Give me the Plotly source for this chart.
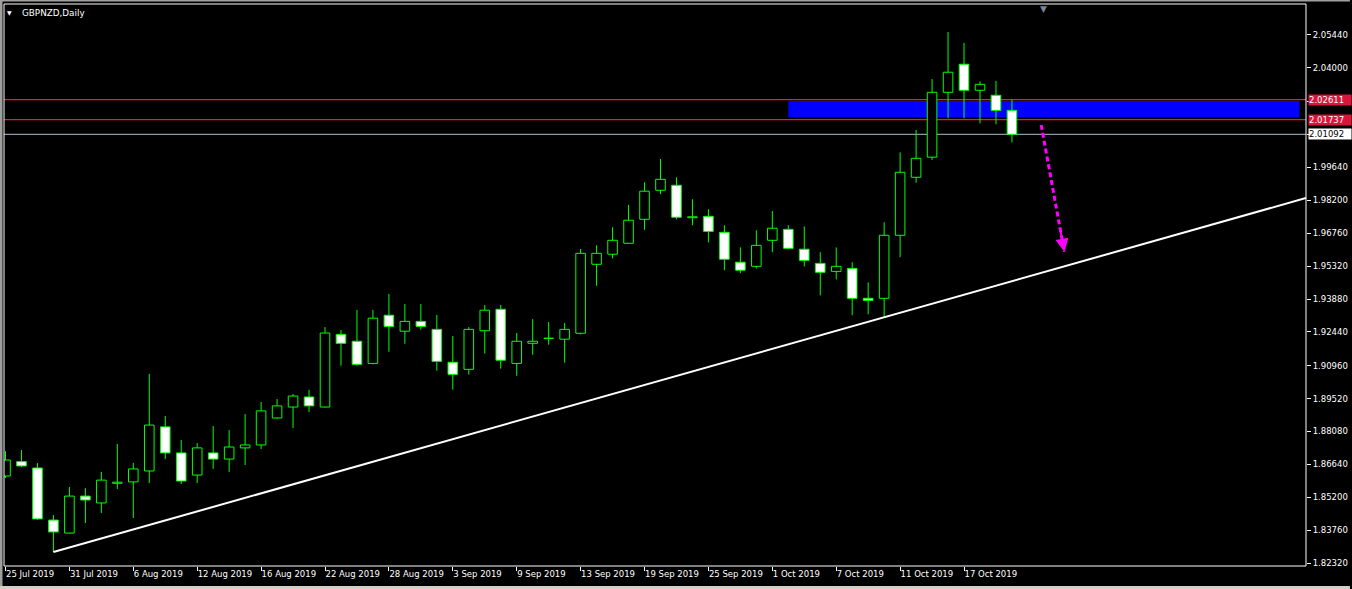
import plotly.graph_objects as go
import pandas as pd

# ---------------- data ----------------
symbol_title = "GBPNZD,Daily"
first_date = "2019-07-25"

opens = [1.8613, 1.8676, 1.8648, 1.8420, 1.8363, 1.8525, 1.8495, 1.8581, 1.8587, 1.8635,
         1.8828, 1.8714, 1.8617, 1.8714, 1.8687, 1.8736, 1.8749, 1.8867, 1.8915, 1.8959,
         1.8915, 1.9233, 1.9203, 1.9106, 1.9317, 1.9247, 1.9290, 1.9255, 1.9111, 1.9080,
         1.9249, 1.9343, 1.9106, 1.9194, 1.92162, 1.9212, 1.9238, 1.9540, 1.9584, 1.9632,
         1.9737, 1.9864, 1.9886, 1.9744, 1.9750, 1.9680, 1.9549, 1.9531, 1.9645, 1.9693,
         1.9606, 1.9544, 1.9509, 1.9522, 1.9391, 1.9391, 1.9667, 1.9921, 2.0009, 2.0293,
         2.0416, 2.0302, 2.0280, 2.0214]
highs = [1.8722, 1.8727, 1.8670, 1.8442, 1.8565, 1.8560, 1.8631, 1.8753, 1.8670, 1.9060,
         1.8876, 1.8771, 1.8757, 1.8832, 1.8814, 1.8884, 1.8937, 1.8950, 1.8972, 1.8990,
         1.9265, 1.9252, 1.9340, 1.9340, 1.9410, 1.9366, 1.9366, 1.9318, 1.9226, 1.9265,
         1.9362, 1.9362, 1.9239, 1.9300, 1.9287, 1.9283, 1.9607, 1.9623, 1.9702, 1.9800,
         1.9899, 2.0001, 1.9921, 1.9825, 1.9781, 1.9711, 1.9614, 1.9689, 1.9773, 1.9711,
         1.9706, 1.9593, 1.9614, 1.9549, 1.9461, 1.9724, 2.0030, 2.0128, 2.0351, 2.0557,
         2.0509, 2.0341, 2.0343, 2.0261]
lows = [1.8604, 1.8652, 1.8422, 1.8280, 1.8362, 1.8407, 1.8451, 1.8556, 1.8429, 1.8582,
        1.8687, 1.8578, 1.8582, 1.8644, 1.8631, 1.8661, 1.8731, 1.8863, 1.8823, 1.8893,
        1.8913, 1.9096, 1.9096, 1.9102, 1.9157, 1.9192, 1.9254, 1.9074, 1.8991, 1.9057,
        1.9149, 1.9083, 1.9052, 1.9144, 1.9188, 1.9109, 1.9233, 1.9446, 1.9566, 1.9631,
        1.9691, 1.9847, 1.9737, 1.9711, 1.9636, 1.9514, 1.9501, 1.9522, 1.9593, 1.9606,
        1.9531, 1.9404, 1.9474, 1.9317, 1.9321, 1.9308, 1.9571, 1.9897, 1.9997, 2.0179,
        2.0179, 2.0157, 2.0153, 2.0074]
closes = [1.8683, 1.8657, 1.8425, 1.8368, 1.8525, 1.8508, 1.8595, 1.8586, 1.8644, 1.8836,
          1.8714, 1.8591, 1.8736, 1.8687, 1.8740, 1.8749, 1.8898, 1.8920, 1.8963, 1.8920,
          1.9239, 1.9194, 1.9102, 1.9304, 1.9268, 1.9290, 1.9268, 1.9115, 1.9058, 1.9255,
          1.9339, 1.9120, 1.9203, 1.9203, 1.92158, 1.9255, 1.9588, 1.9588, 1.9645, 1.9733,
          1.9860, 1.9912, 1.9746, 1.9748, 1.9684, 1.9562, 1.9514, 1.9623, 1.9698, 1.9610,
          1.9557, 1.9505, 1.9531, 1.9391, 1.9382, 1.9667, 1.9943, 2.0004, 2.0293, 2.0381,
          2.0302, 2.0328, 2.0214, 2.0109]

y_tick_vals = [1.82320, 1.83760, 1.85200, 1.86640, 1.88080, 1.89520, 1.90960, 1.92440,
               1.93880, 1.95320, 1.96760, 1.98200, 1.99640, 2.01080, 2.02540, 2.04000, 2.05440]
y_tick_text = ["1.82320", "1.83760", "1.85200", "1.86640", "1.88080", "1.89520", "1.90960",
               "1.92440", "1.93880", "1.95320", "1.96760", "1.98200", "1.99640", "2.01080",
               "2.02540", "2.04000", "2.05440"]

level_high = 2.02611
level_low = 2.01737
bid_price = 2.01092
zone_top = 2.0255
zone_bottom = 2.0184
zone_start_bar = 49
zone_end_bar = 81

trend_anchor_bars = [3, 55]
trend_anchor_prices = [1.8280, 1.9308]

arrow_start = (64.83, 2.0150)
arrow_end = (66.28, 1.9595)

label_every = 4

# ---------------- derived ----------------
n = len(opens)
dates = pd.bdate_range(first_date, periods=n)
idx = list(range(n))
x_tick_vals = idx[::label_every]
x_tick_text = [f"{d.day} {d.strftime('%b %Y')}" for d in dates[::label_every]]

X0 = -1.5 / 16
X1 = X0 + 1304 / 16
Y_TOP = 2.06797
Y_BOT = 1.82189

GREEN = "#00ff00"
FONT = "DejaVu Sans"

bull = [i for i in idx if closes[i] >= opens[i]]
bear = [i for i in idx if closes[i] < opens[i]]

fig = go.Figure()

# wicks
wx, wy = [], []
for i in idx:
    top = max(opens[i], closes[i])
    bot = min(opens[i], closes[i])
    wx += [i, i, None, i, i, None]
    wy += [highs[i], top, None, bot, lows[i], None]

fig.add_trace(go.Bar(
    x=bull, base=[opens[i] for i in bull], y=[closes[i] - opens[i] for i in bull],
    width=0.6, marker=dict(color="#000000", line=dict(color=GREEN, width=1)),
    hoverinfo="skip", showlegend=False))
fig.add_trace(go.Bar(
    x=bear, base=[closes[i] for i in bear], y=[opens[i] - closes[i] for i in bear],
    width=0.6, marker=dict(color="#ffffff", line=dict(color=GREEN, width=1)),
    hoverinfo="skip", showlegend=False))
fig.add_trace(go.Scatter(x=wx, y=wy, mode="lines", line=dict(color=GREEN, width=1),
                         hoverinfo="skip", showlegend=False))

# trend line (ray from first anchor through second to right edge)
slope = (trend_anchor_prices[1] - trend_anchor_prices[0]) / (trend_anchor_bars[1] - trend_anchor_bars[0])
t_end_price = trend_anchor_prices[0] + slope * (X1 - trend_anchor_bars[0])
fig.add_trace(go.Scatter(x=[trend_anchor_bars[0], X1], y=[trend_anchor_prices[0], t_end_price],
                         mode="lines", line=dict(color="#ffffff", width=2),
                         hoverinfo="skip", showlegend=False))

# dashed magenta arrow
fig.add_trace(go.Scatter(x=[arrow_start[0], arrow_end[0]], y=[arrow_start[1], arrow_end[1]],
                         mode="lines", line=dict(color="#ff00ff", width=3, dash="5px,3px"),
                         hoverinfo="skip", showlegend=False))
tail_x = arrow_end[0] - 0.2 * (arrow_end[0] - arrow_start[0])
tail_y = arrow_end[1] - 0.2 * (arrow_end[1] - arrow_start[1])

shapes = [
    dict(type="rect", xref="x", yref="y", x0=zone_start_bar, x1=zone_end_bar,
         y0=zone_bottom, y1=zone_top, fillcolor="#0000ff", line=dict(width=0), layer="below"),
    dict(type="line", xref="paper", yref="y", x0=0, x1=1, y0=level_high, y1=level_high,
         line=dict(color="#ff1040", width=1.3), layer="below"),
    dict(type="line", xref="paper", yref="y", x0=0, x1=1, y0=level_low, y1=level_low,
         line=dict(color="#ff1040", width=1.3), layer="below"),
    dict(type="line", xref="paper", yref="y", x0=0, x1=1, y0=bid_price, y1=bid_price,
         line=dict(color="#8898a8", width=1.3), layer="below"),
    dict(type="rect", xref="paper", yref="paper", x0=0, x1=1, y0=0, y1=1,
         line=dict(color="#ffffff", width=1), fillcolor="rgba(0,0,0,0)", layer="above"),
    # window chrome
    dict(type="rect", xref="paper", yref="paper", x0=-4 / 1304, x1=-1.5 / 1304, y0=-23 / 562, y1=1 + 4 / 562,
         line=dict(width=0), fillcolor="#a0a0a0", layer="above"),
    dict(type="rect", xref="paper", yref="paper", x0=-4 / 1304, x1=1 + 44 / 1304, y0=1 + 2.5 / 562, y1=1 + 4 / 562,
         line=dict(width=0), fillcolor="#a0a0a0", layer="above"),
    dict(type="rect", xref="paper", yref="paper", x0=-4 / 1304, x1=1 + 44 / 1304, y0=-23 / 562, y1=-20 / 562,
         line=dict(width=0), fillcolor="#d4d0c8", layer="above"),
]

annotations = [
    dict(x=arrow_end[0], y=arrow_end[1], ax=tail_x, ay=tail_y, xref="x", yref="y",
         axref="x", ayref="y", text="", showarrow=True, arrowhead=2, arrowsize=1.3,
         arrowwidth=2, arrowcolor="#ff00ff"),
    dict(xref="paper", yref="paper", x=16 / 1304, y=1, xanchor="left", yanchor="top", yshift=-2,
         text=symbol_title, showarrow=False, font=dict(family=FONT, size=8.8, color="#ffffff")),
    dict(xref="paper", yref="paper", x=6 / 1304, y=1, xanchor="center", yanchor="top", yshift=-3,
         text="▼", showarrow=False, font=dict(family=FONT, size=6, color="#ffffff")),
    dict(xref="x", yref="paper", x=65, y=1, xanchor="center", yanchor="top", yshift=2,
         text="▼", showarrow=False, font=dict(family=FONT, size=9, color="#778899")),
]
for price, bg, fg in [(level_high, "#dc143c", "#ffffff"), (level_low, "#dc143c", "#ffffff"),
                      (bid_price, "#ffffff", "#000000")]:
    annotations.append(dict(xref="paper", yref="y", x=1, y=price, xanchor="left", yanchor="middle",
                            xshift=2, text=f"{price:.5f}", showarrow=False, bgcolor=bg,
                            borderpad=0, width=42, align="left",
                            font=dict(family=FONT, size=8.5, color=fg)))

fig.update_layout(
    width=1352, height=589, autosize=False,
    margin=dict(l=4, r=44, t=4, b=23, pad=0),
    paper_bgcolor="#000000", plot_bgcolor="#000000",
    barmode="overlay", showlegend=False,
    shapes=shapes, annotations=annotations,
    xaxis=dict(range=[X0, X1], showgrid=False, zeroline=False, showline=False,
               tickmode="array", tickvals=x_tick_vals, ticktext=x_tick_text,
               ticks="outside", ticklen=4, tickcolor="#ffffff", tickwidth=1,
               ticklabelposition="outside right",
               tickfont=dict(family=FONT, size=8.5, color="#ffffff")),
    yaxis=dict(range=[Y_BOT, Y_TOP], side="right", showgrid=False, zeroline=False, showline=False,
               tickmode="array", tickvals=y_tick_vals, ticktext=y_tick_text,
               ticks="outside", ticklen=4, tickcolor="#ffffff", tickwidth=1,
               tickfont=dict(family=FONT, size=8.5, color="#ffffff")),
)

fig.write_html("out.html", config={"displayModeBar": False},
               post_script="document.body.style.margin='0';document.body.style.background='#000';")
